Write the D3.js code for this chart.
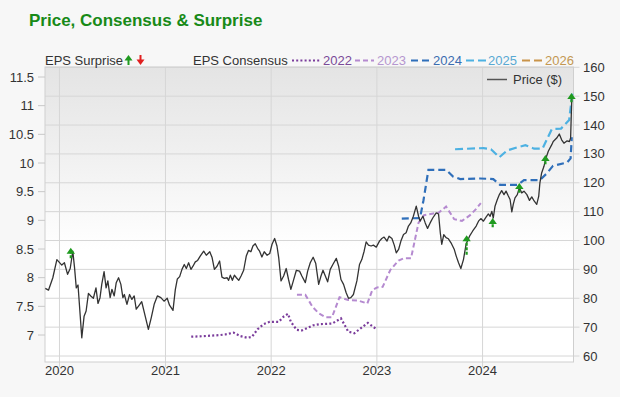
<!DOCTYPE html>
<html><head><meta charset="utf-8">
<script src="https://cdn.jsdelivr.net/npm/d3@7"></script>
<style>
html,body{margin:0;padding:0;background:#f7f7f7;}
svg{display:block;font-family:"Liberation Sans",Arial,sans-serif;}
</style></head>
<body>
<svg id="chart" width="620" height="397"></svg>
<script>
// ---------- DATA ----------
const titleText = "Price, Consensus & Surprise";
const yearTicks = ["2020-01-01","2021-01-01","2022-01-01","2023-01-01","2024-01-01"];
const yearLabels = ["2020","2021","2022","2023","2024"];
const epsTicks = [7, 7.5, 8, 8.5, 9, 9.5, 10, 10.5, 11, 11.5];
const epsTickLabels = ["7","7.5","8","8.5","9","9.5","10","10.5","11","11.5"];
const priceTicks = [60, 70, 80, 90, 100, 110, 120, 130, 140, 150, 160];
const consensusYears = ["2022","2023","2024","2025","2026"];

const priceDates = ["2019-11-13","2019-11-24","2019-12-09","2019-12-23","2020-01-09","2020-01-18","2020-01-29","2020-02-07","2020-02-16","2020-02-22","2020-02-28","2020-03-05","2020-03-18","2020-03-26","2020-04-02","2020-04-10","2020-04-18","2020-04-27","2020-05-06","2020-05-13","2020-05-20","2020-05-26","2020-06-03","2020-06-10","2020-06-16","2020-06-24","2020-06-30","2020-07-08","2020-07-15","2020-07-23","2020-07-31","2020-08-07","2020-08-12","2020-08-21","2020-08-30","2020-09-07","2020-09-15","2020-09-22","2020-09-30","2020-10-11","2020-10-23","2020-11-03","2020-11-13","2020-11-23","2020-12-04","2020-12-16","2020-12-27","2021-01-07","2021-01-15","2021-01-27","2021-02-04","2021-02-11","2021-02-19","2021-02-27","2021-03-07","2021-03-14","2021-03-22","2021-03-30","2021-04-06","2021-04-14","2021-04-22","2021-05-01","2021-05-13","2021-05-22","2021-06-03","2021-06-11","2021-06-19","2021-06-28","2021-07-07","2021-07-15","2021-07-23","2021-08-02","2021-08-07","2021-08-13","2021-08-20","2021-08-27","2021-09-03","2021-09-11","2021-09-19","2021-09-28","2021-10-07","2021-10-15","2021-10-23","2021-10-30","2021-11-07","2021-11-15","2021-11-22","2021-11-30","2021-12-08","2021-12-18","2021-12-27","2022-01-04","2022-01-13","2022-01-21","2022-01-27","2022-02-04","2022-02-13","2022-02-22","2022-03-02","2022-03-10","2022-03-19","2022-03-29","2022-04-09","2022-04-17","2022-04-29","2022-05-07","2022-05-16","2022-05-26","2022-06-04","2022-06-14","2022-06-22","2022-06-29","2022-07-07","2022-07-15","2022-07-24","2022-08-02","2022-08-14","2022-08-22","2022-08-30","2022-09-08","2022-09-17","2022-09-25","2022-10-03","2022-10-12","2022-10-24","2022-11-02","2022-11-10","2022-11-18","2022-11-25","2022-12-03","2022-12-12","2022-12-20","2022-12-30","2023-01-10","2023-01-18","2023-01-26","2023-02-05","2023-02-12","2023-02-22","2023-03-02","2023-03-09","2023-03-17","2023-03-25","2023-04-03","2023-04-12","2023-04-20","2023-04-28","2023-05-07","2023-05-17","2023-05-25","2023-05-30","2023-06-09","2023-06-17","2023-06-25","2023-07-04","2023-07-13","2023-07-25","2023-08-02","2023-08-08","2023-08-13","2023-08-20","2023-08-28","2023-09-05","2023-09-14","2023-09-25","2023-10-02","2023-10-10","2023-10-18","2023-10-27","2023-11-05","2023-11-17","2023-11-28","2023-12-10","2023-12-18","2023-12-26","2024-01-04","2024-01-13","2024-01-21","2024-01-27","2024-02-02","2024-02-07","2024-02-13","2024-02-21","2024-02-28","2024-03-07","2024-03-15","2024-03-22","2024-03-30","2024-04-05","2024-04-11","2024-04-16","2024-04-22","2024-04-30","2024-05-07","2024-05-15","2024-05-23","2024-06-02","2024-06-11","2024-06-19","2024-06-27","2024-07-06","2024-07-13","2024-07-17","2024-07-23","2024-07-31","2024-08-07","2024-08-15","2024-08-27","2024-09-01","2024-09-13","2024-09-22","2024-09-30","2024-10-08","2024-10-18","2024-10-27","2024-10-31","2024-11-04"];
const priceValues = [83.4,82.8,87.1,93.4,91.5,92.3,88.3,90.3,96.3,90.6,83.6,84.6,66.3,73.8,75.6,81.7,80.8,80.0,83.6,78.2,80.2,84.8,89.2,83.6,86.0,80.2,83.1,80.8,85.4,87.1,84.8,80.2,81.3,77.9,81.3,79.6,80.8,76.2,77.3,78.8,73.8,69.2,73.3,77.9,80.8,80.2,79.0,80.0,77.6,75.8,83.0,86.7,87.5,90.0,91.7,90.3,92.3,90.0,91.1,92.6,93.1,94.6,96.3,94.9,96.1,94.1,90.0,91.1,92.9,87.3,86.9,87.1,86.2,88.0,86.2,88.0,87.1,86.2,87.7,89.7,94.6,96.6,96.1,98.1,98.9,97.3,96.3,94.3,96.1,94.9,95.5,98.7,100.7,98.1,94.1,86.0,87.7,90.3,86.5,83.1,86.2,89.7,89.4,87.7,85.4,89.4,92.3,94.2,92.0,84.8,87.7,89.7,87.7,85.7,90.0,91.7,93.8,91.1,86.5,84.8,81.9,80.0,80.2,81.3,86.0,91.7,93.4,96.3,99.5,98.4,98.1,98.4,97.7,99.8,100.7,101.2,99.8,101.5,100.7,98.4,95.7,96.9,99.8,102.1,102.7,105.0,106.1,108.4,111.9,108.4,106.7,108.4,106.1,104.2,106.1,107.8,109.6,109.2,102.7,98.7,102.0,101.0,100.6,99.2,97.0,94.6,92.3,90.3,93.4,98.7,101.5,103.3,105.0,106.7,107.6,106.7,108.1,109.2,108.4,110.1,107.8,111.9,114.2,115.9,117.3,115.9,117.1,115.4,114.2,109.9,112.5,114.8,115.9,118.3,116.5,117.1,115.9,113.9,115.1,113.7,112.5,115.4,120.0,123.4,125.7,128.6,130.9,133.2,134.3,135.5,136.9,134.9,133.7,134.5,134.3,135.5,149.0];

const eps2022 = [["2021-03-31",6.97],["2021-05-13",6.98],["2021-07-10",7.0],["2021-07-27",7.01],["2021-08-24",7.04],["2021-09-17",6.98],["2021-10-11",6.95],["2021-10-27",6.97],["2021-11-15",7.1],["2021-12-06",7.19],["2021-12-27",7.23],["2022-01-27",7.23],["2022-02-13",7.32],["2022-02-28",7.37],["2022-03-10",7.23],["2022-03-30",7.09],["2022-04-17",7.08],["2022-05-05",7.12],["2022-05-27",7.17],["2022-06-20",7.19],["2022-07-31",7.2],["2022-08-30",7.29],["2022-09-24",7.06],["2022-10-15",7.03],["2022-11-07",7.12],["2022-12-01",7.21],["2022-12-31",7.1]];
const eps2023 = [["2022-03-31",7.7],["2022-04-29",7.7],["2022-05-24",7.49],["2022-06-14",7.38],["2022-07-07",7.31],["2022-07-30",7.31],["2022-08-25",7.66],["2022-09-24",7.61],["2022-10-29",7.6],["2022-11-29",7.55],["2022-12-16",7.78],["2023-01-02",7.83],["2023-01-21",7.84],["2023-02-16",8.13],["2023-03-17",8.3],["2023-04-05",8.34],["2023-04-29",8.34],["2023-05-25",8.96],["2023-06-13",9.09],["2023-07-15",9.12],["2023-08-02",9.13],["2023-08-28",9.24],["2023-09-25",9.02],["2023-10-22",8.99],["2023-11-19",9.09],["2023-12-10",9.2],["2023-12-26",9.3]];
const eps2024 = [["2023-03-28",9.03],["2023-05-30",9.04],["2023-06-11",9.35],["2023-06-28",9.88],["2023-08-28",9.88],["2023-09-22",9.76],["2023-10-16",9.72],["2023-12-24",9.73],["2024-02-07",9.72],["2024-03-01",9.62],["2024-05-01",9.62],["2024-05-23",9.7],["2024-07-17",9.7],["2024-08-10",9.82],["2024-08-31",9.95],["2024-10-19",10.01],["2024-10-31",10.08],["2024-11-04",10.45]];
const eps2025 = [["2023-09-28",10.24],["2024-01-04",10.26],["2024-01-30",10.24],["2024-02-28",10.1],["2024-03-26",10.22],["2024-04-28",10.27],["2024-05-28",10.31],["2024-06-27",10.25],["2024-07-26",10.25],["2024-08-27",10.59],["2024-09-28",10.6],["2024-10-26",10.75],["2024-11-07",11.26]];
const eps2026 = [];

const surpriseDates = ["2020-02-09","2023-11-07","2024-02-05","2024-05-07","2024-08-05","2024-11-03"];
const surpriseFrom = [8.34, 8.40, 8.88, 9.48, 9.98, 11.06];
const surpriseTo   = [8.52, 8.74, 9.04, 9.65, 10.14, 11.22];

// ---------- DRAW ----------
const svg = d3.select("#chart");
const parse = d3.utcParse("%Y-%m-%d");
const P = {left:45, right:573.5, top:67, bottom:362};

const x = d3.scaleUtc().domain([parse("2019-11-12"), parse("2024-11-10")]).range([P.left, P.right]);
const yL = d3.scaleLinear().domain([7, 11.5]).range([335, 77]);
const yR = d3.scaleLinear().domain([60, 160]).range([356, 67.3]);

const defs = svg.append("defs");
const grad = defs.append("linearGradient").attr("id","bg").attr("x1",0).attr("y1",0).attr("x2",0).attr("y2",1);
grad.append("stop").attr("offset","0%").attr("stop-color","#e4e4e4");
grad.append("stop").attr("offset","25%").attr("stop-color","#eeeeee");
grad.append("stop").attr("offset","62%").attr("stop-color","#ffffff");
grad.append("stop").attr("offset","100%").attr("stop-color","#ffffff");
defs.append("clipPath").attr("id","clip").append("rect")
  .attr("x",P.left).attr("y",P.top-6).attr("width",P.right-P.left+4).attr("height",P.bottom-P.top+6);

// title
svg.append("text").attr("x",29).attr("y",26).attr("fill","#188a18")
  .attr("font-size",17).attr("font-weight","bold").text(titleText);

// plot background
svg.append("rect").attr("x",P.left).attr("y",P.top).attr("width",P.right-P.left).attr("height",P.bottom-P.top)
  .attr("fill","url(#bg)");

// grid
const grid = svg.append("g");
grid.selectAll("line.h").data(priceTicks).join("line")
  .attr("x1",P.left).attr("x2",P.right+6).attr("y1",d=>yR(d)).attr("y2",d=>yR(d))
  .attr("stroke","#d6d6d6").attr("stroke-width",1);
grid.selectAll("line.v").data(yearTicks).join("line")
  .attr("x1",d=>x(parse(d))).attr("x2",d=>x(parse(d))).attr("y1",P.top).attr("y2",P.bottom+5)
  .attr("stroke","#d6d6d6").attr("stroke-width",1);

// border
svg.append("rect").attr("x",P.left).attr("y",P.top).attr("width",P.right-P.left).attr("height",P.bottom-P.top)
  .attr("fill","none").attr("stroke","#cfcfcf").attr("stroke-width",1);

// left axis (EPS)
const gL = svg.append("g");
gL.selectAll("line").data(epsTicks).join("line")
  .attr("x1",38).attr("x2",P.left).attr("y1",d=>yL(d)).attr("y2",d=>yL(d)).attr("stroke","#c8c8c8");
gL.selectAll("text").data(epsTicks).join("text")
  .attr("x",34).attr("y",d=>yL(d)).attr("dy","0.35em").attr("text-anchor","end")
  .attr("font-size",13).attr("fill","#333").text((d,i)=>epsTickLabels[i]);

// right axis (price)
const gR = svg.append("g");
gR.selectAll("text").data(priceTicks).join("text")
  .attr("x",583).attr("y",d=>yR(d)).attr("dy","0.35em").attr("text-anchor","start")
  .attr("font-size",13).attr("fill","#333").text(d=>d);

// x axis labels
svg.append("g").selectAll("text").data(yearTicks).join("text")
  .attr("x",d=>x(parse(d))).attr("y",375).attr("text-anchor","middle")
  .attr("font-size",13).attr("fill","#333").text((d,i)=>yearLabels[i]);

// series
const plot = svg.append("g").attr("clip-path","url(#clip)");
const lineL = d3.line().x(d=>x(parse(d[0]))).y(d=>yL(d[1]));
const consStyles = {
  "2022":{c:"#7b3d9c", dash:"2,2.2", w:2.2},
  "2023":{c:"#b58ad0", dash:"5,3", w:2},
  "2024":{c:"#2f6fba", dash:"7,4", w:2.2},
  "2025":{c:"#4db1e2", dash:"8,4", w:2.2},
  "2026":{c:"#c9944a", dash:"8,4", w:2.2}
};
const consData = {"2022":eps2022,"2023":eps2023,"2024":eps2024,"2025":eps2025,"2026":eps2026};
consensusYears.forEach(k=>{
  if(!consData[k].length) return;
  plot.append("path").datum(consData[k]).attr("d",lineL).attr("fill","none")
    .attr("stroke",consStyles[k].c).attr("stroke-width",consStyles[k].w)
    .attr("stroke-dasharray",consStyles[k].dash);
});

const priceData = priceDates.map((d,i)=>[parse(d), priceValues[i]]);
plot.append("path").datum(priceData)
  .attr("d", d3.line().x(d=>x(d[0])).y(d=>yR(d[1])))
  .attr("fill","none").attr("stroke","#333").attr("stroke-width",1.3).attr("stroke-linejoin","round");

// surprise arrows
const green = "#1f9a1f", red = "#e01f1f";
surpriseDates.forEach((d,i)=>{
  const cx = x(parse(d)), y0 = yL(surpriseFrom[i]), y1 = yL(surpriseTo[i]);
  const up = surpriseTo[i] >= surpriseFrom[i];
  const col = up ? green : red;
  const dir = up ? 1 : -1;
  plot.append("line").attr("x1",cx).attr("x2",cx).attr("y1",y0).attr("y2",y1+dir*4)
    .attr("stroke",col).attr("stroke-width",2.2).attr("stroke-dasharray","3,1.5");
  plot.append("path").attr("d",`M${cx-4.2},${y1+dir*6}L${cx+4.2},${y1+dir*6}L${cx},${y1}Z`).attr("fill",col);
});

// legend row
const ly = 60;
const lg = svg.append("g").attr("font-size",13);
lg.append("text").attr("x",45).attr("y",ly).attr("dy","0.35em").attr("fill","#333").text("EPS Surprise");
// green up arrow
lg.append("line").attr("x1",128.5).attr("x2",128.5).attr("y1",65).attr("y2",58).attr("stroke",green).attr("stroke-width",2);
lg.append("path").attr("d","M124.5,60.5L132.5,60.5L128.5,55Z").attr("fill",green);
// red down arrow
lg.append("line").attr("x1",140.5).attr("x2",140.5).attr("y1",55).attr("y2",62).attr("stroke",red).attr("stroke-width",2);
lg.append("path").attr("d","M136.5,59.5L144.5,59.5L140.5,65Z").attr("fill",red);

lg.append("text").attr("x",193).attr("y",ly).attr("dy","0.35em").attr("fill","#333").text("EPS Consensus");
const legendLayout = [
  {k:"2022", lx0:292, lx1:321, tx:323},
  {k:"2023", lx0:355, lx1:374, tx:377},
  {k:"2024", lx0:411, lx1:431, tx:433},
  {k:"2025", lx0:466, lx1:486, tx:488},
  {k:"2026", lx0:522, lx1:542, tx:545}
];
const legendText = {"2022":"#7a4a98","2023":"#b596cf","2024":"#3a6cb0","2025":"#58a9d3","2026":"#c39752"};
legendLayout.forEach(o=>{
  lg.append("line").attr("x1",o.lx0).attr("x2",o.lx1).attr("y1",ly+0.5).attr("y2",ly+0.5)
    .attr("stroke",consStyles[o.k].c).attr("stroke-width",2).attr("stroke-dasharray",consStyles[o.k].dash);
  lg.append("text").attr("x",o.tx).attr("y",ly).attr("dy","0.35em").attr("fill",legendText[o.k]).text(o.k);
});

// price legend
svg.append("line").attr("x1",487).attr("x2",507).attr("y1",79.5).attr("y2",79.5).attr("stroke","#555").attr("stroke-width",1.5);
svg.append("text").attr("x",513).attr("y",79).attr("dy","0.35em").attr("font-size",13).attr("fill","#333").text("Price ($)");
</script>
</body></html>
